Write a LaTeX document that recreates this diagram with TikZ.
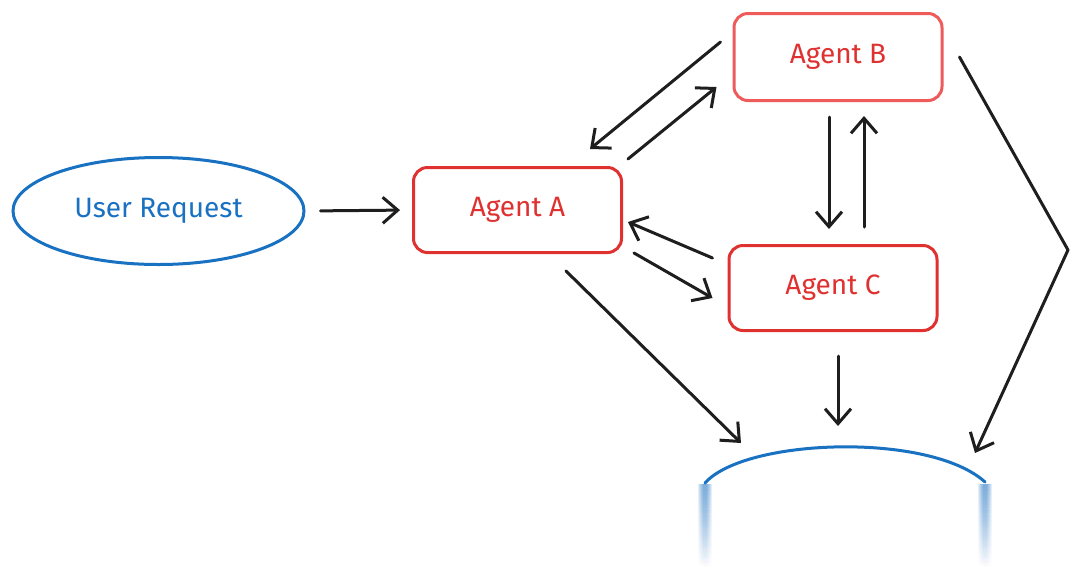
\documentclass[tikz,border=0pt]{standalone}
\usepackage{fontspec}
\setmainfont{Fira Sans}
\usetikzlibrary{arrows.meta,shapes.geometric,fadings}
\definecolor{exblue}{HTML}{1971C2}
\definecolor{exred}{HTML}{E03131}
\definecolor{exredlight}{HTML}{EF5A5A}
\definecolor{exblack}{HTML}{1E1E1E}
\tikzset{
  agentbox/.style={draw=exred, line width=3pt, rounded corners=14pt, text=exred,
    minimum width=208pt, minimum height=85pt, font=\fontsize{28}{32}\selectfont},
  userell/.style={draw=exblue, ellipse, line width=3pt, text=exblue,
    minimum width=291pt, minimum height=107pt, font=\fontsize{28}{32}\selectfont},
  arr/.style={draw=exblack, line width=3pt, line cap=round, line join=round,
    -{Straight Barb[length=15pt,width=26pt,line width=3pt]}},
  fadebar/.style={fill=exblue, path fading=south},
}
\begin{document}
\begin{tikzpicture}[x=1pt,y=-1pt]
\useasboundingbox[fill=white] (0,0) rectangle (1080,566);
\node[userell] (ur) at (158.5,211) {User Request};
\node[agentbox] (a) at (517.5,210) {Agent A};
\node[agentbox, draw=exredlight, minimum height=87pt] (b) at (838,57) {Agent B};
\node[agentbox] (c) at (833,288) {Agent C};
% output shape (partly visible)
\coordinate (outL) at (741,443);
\coordinate (outM) at (838,426);
\coordinate (outR) at (975,453);
\draw[exblue, line width=3pt, line cap=round] (705,483) .. controls (745,438) and (930,432) .. (985,482);
\foreach \xx in {705,985}{
  \foreach \w in {7,6,5,4,3,2}{
    \fill[fadebar, opacity=0.13] (\xx-\w,484) rectangle (\xx+\w,566);
  }
}
% connectors
\draw[arr, shorten <=15pt, shorten >=12pt] (ur.east) -- (a.west);
\draw[arr] ([shift={(-12,-15)}]b.west) -- ([shift={(72.5,-17)}]a.north);
\draw[arr] ([shift={(5,-7)}]a.north east) -- ([shift={(-16,30)}]b.west);
\draw[arr] ([shift={(-9,15)}]b.south) -- ([shift={(-4,-15)}]c.north);
\draw[arr] ([shift={(31,-17)}]c.north) -- ([shift={(26,14)}]b.south);
\draw[arr] ([shift={(-15,-30)}]c.west) -- ([shift={(5,12)}]a.east);
\draw[arr] ([shift={(11,-1)}]a.south east) -- ([shift={(-15,10)}]c.west);
\draw[arr] ([shift={(48.5,17)}]a.south) -- (outL);
\draw[arr] ([shift={(5,24)}]c.south) -- (outM);
\draw[arr] ([shift={(16,0)}]b.east) -- (1068,250) -- (outR);
\end{tikzpicture}
\end{document}
